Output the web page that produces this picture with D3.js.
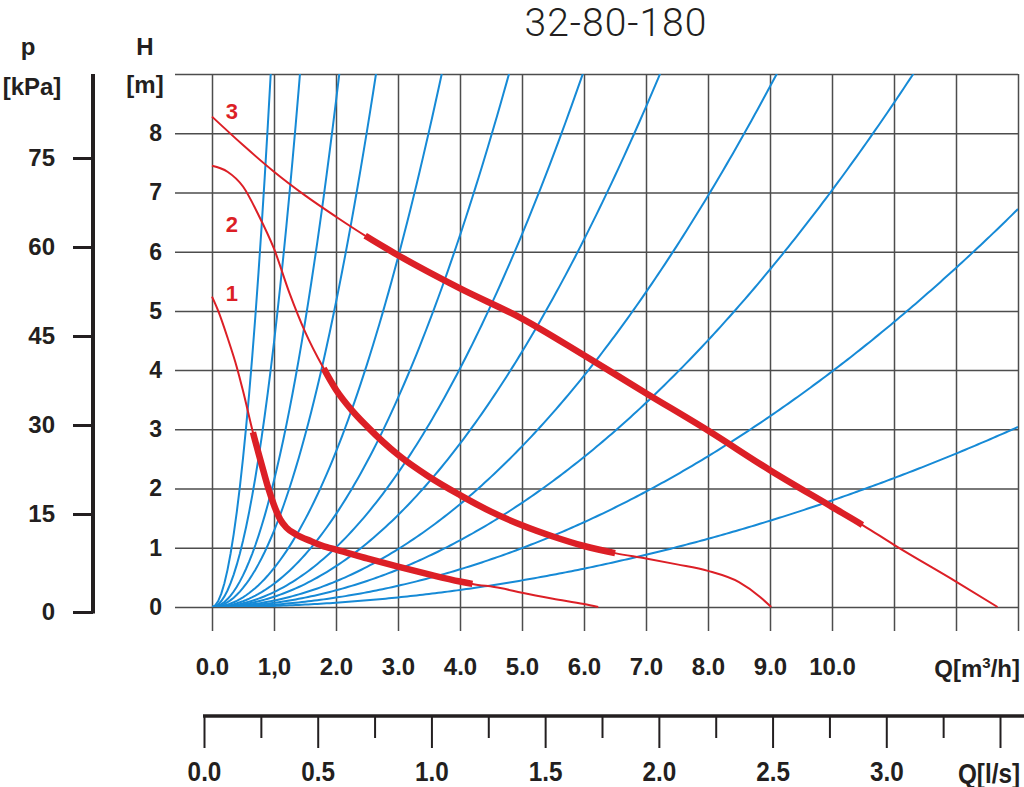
<!DOCTYPE html>
<html>
<head>
<meta charset="utf-8">
<script src="https://cdn.jsdelivr.net/npm/d3@7"></script>
<style>
  body { margin: 0; background: #fff; }
  text { font-family: "Liberation Sans", Arial, Helvetica, sans-serif; }
</style>
</head>
<body>
<div id="chart"></div>
<script>
// ---- data ----
const title = "32-80-180";

// flow axis Q [m3/h] (grid goes to 13, labels to 10)
const qGrid = d3.range(0, 14);
const qLabels = ["0.0", "1,0", "2.0", "3.0", "4.0", "5.0", "6.0", "7.0", "8.0", "9.0", "10.0"];

// head axis H [m]
const hGrid = d3.range(0, 10);
const hLabels = ["0", "1", "2", "3", "4", "5", "6", "7", "8"];

// pressure axis p [kPa]
const pTicks = [0, 15, 30, 45, 60, 75];

// flow axis Q [l/s]
const lsMajor = [0, 0.5, 1.0, 1.5, 2.0, 2.5, 3.0, 3.5];
const lsMinor = [0.25, 0.75, 1.25, 1.75, 2.25, 2.75, 3.25];
const lsLabels = ["0.0", "0.5", "1.0", "1.5", "2.0", "2.5", "3.0"];

// pump curves (speed 1, 2, 3)
const curve1Q = [0, 0.1, 0.25, 0.4, 0.5, 0.66, 0.8, 0.91, 1.0, 1.1, 1.2, 1.35, 1.6, 1.85, 2.0, 2.5, 3.0, 3.5, 4.0, 4.2, 4.65, 5.0, 5.5, 6.0, 6.23];
const curve1H = [5.24, 5.0, 4.55, 4.05, 3.65, 2.95, 2.41, 2.0, 1.72, 1.48, 1.34, 1.23, 1.11, 1.01, 0.97, 0.82, 0.68, 0.55, 0.43, 0.39, 0.32, 0.24, 0.14, 0.05, 0];
const curve2Q = [0, 0.25, 0.5, 0.75, 1.0, 1.25, 1.5, 1.8, 2.0, 2.25, 2.5, 3.0, 3.5, 4.0, 4.5, 5.0, 5.5, 6.0, 6.5, 7.0, 7.5, 8.0, 8.5, 8.84, 9.02];
const curve2H = [7.45, 7.35, 7.1, 6.62, 6.05, 5.3, 4.65, 4.03, 3.67, 3.33, 3.05, 2.57, 2.2, 1.89, 1.61, 1.38, 1.19, 1.03, 0.91, 0.82, 0.72, 0.61, 0.42, 0.17, 0];
const curve3Q = [0, 0.5, 1, 1.5, 2, 2.5, 3, 4, 5, 6, 7, 8, 9, 10, 10.5, 11, 12, 12.67];
const curve3H = [8.28, 7.8, 7.35, 6.95, 6.59, 6.25, 5.94, 5.38, 4.87, 4.25, 3.61, 2.98, 2.31, 1.69, 1.38, 1.05, 0.43, 0];
const curveNames = ["1", "2", "3"];
// operating range (thick part) of each pump curve, Q [m3/h]
const thickFrom = [0.66, 1.8, 2.47];
const thickTo = [4.2, 6.5, 10.49];

// system curves H = k*Q^2, given by the point where each leaves the grid
const systemEndQ = [0.947, 1.419, 2.053, 2.645, 3.705, 4.79, 5.98, 7.226, 9.108, 11.31, 13, 13];
const systemEndH = [9, 9, 9, 9, 9, 9, 9, 9, 9, 9, 6.72, 3.04];

// ---- drawing ----
const width = 1024, height = 787;
const ink = "#231f20", red = "#dc1f26", blue = "#168ad6", gridColor = "#4d4d4d";

const x = d3.scaleLinear().domain([0, 13]).range([212, 1018]);
const y = d3.scaleLinear().domain([0, 9]).range([607, 74]);
const p = d3.scaleLinear().domain([0, 15, 75]).range([612, 514, 158]);
const ls = d3.scaleLinear().domain([0, 3.5]).range([204, 1000]);

const gridLeft = 175, gridBottom = 631;

const svg = d3.select("#chart")
  .append("svg")
  .attr("width", width)
  .attr("height", height)
  .style("background", "#fff");

function styleAxis(g, size) {
  g.select(".domain").remove();
  g.attr("font-family", null).attr("font-size", null);
  g.selectAll("text")
    .attr("fill", ink)
    .style("font-size", size + "px")
    .style("font-weight", "bold");
}

// title
svg.append("text")
  .attr("x", 616)
  .attr("y", 36)
  .attr("text-anchor", "middle")
  .style("font-family", "Roboto, 'Open Sans', sans-serif")
  .style("font-weight", 300)
  .style("font-size", "39px")
  .style("letter-spacing", "1px")
  .attr("fill", ink)
  .text(title);

// horizontal grid + H labels
svg.append("g")
  .attr("transform", `translate(${gridLeft},0)`)
  .call(d3.axisLeft(y)
    .tickValues(hGrid)
    .tickSize(-(x(13) - gridLeft))
    .tickPadding(13)
    .tickFormat(d => hLabels[d] ?? ""))
  .call(g => styleAxis(g, 23))
  .call(g => g.selectAll("line").attr("stroke", gridColor).attr("stroke-width", 1.5));

// vertical grid + Q [m3/h] labels
svg.append("g")
  .attr("transform", `translate(0,${gridBottom})`)
  .call(d3.axisBottom(x)
    .tickValues(qGrid)
    .tickSize(-(gridBottom - y(9)))
    .tickPadding(27)
    .tickFormat(d => qLabels[d] ?? ""))
  .call(g => styleAxis(g, 24))
  .call(g => g.selectAll("line").attr("stroke", gridColor).attr("stroke-width", 1.5));

const qUnit = svg.append("text")
  .attr("x", 1020)
  .attr("y", 677)
  .attr("text-anchor", "end")
  .attr("fill", ink)
  .style("font-size", "24px")
  .style("font-weight", "bold");
qUnit.append("tspan").text("Q[m");
qUnit.append("tspan").attr("dy", -9).style("font-size", "15px").text("3");
qUnit.append("tspan").attr("dy", 9).text("/h]");

// H / p axis titles
[["H", 145, 55], ["[m]", 145, 93], ["p", 28, 55], ["[kPa]", 32, 95]].forEach(([t, tx, ty]) => {
  svg.append("text")
    .attr("x", tx).attr("y", ty)
    .attr("text-anchor", "middle")
    .attr("fill", ink)
    .style("font-size", "24px")
    .style("font-weight", "bold")
    .text(t);
});

// p axis
svg.append("g")
  .attr("transform", "translate(93,0)")
  .call(d3.axisLeft(p).tickValues(pTicks).tickSize(20).tickPadding(18))
  .call(g => styleAxis(g, 24))
  .call(g => g.selectAll("line").attr("stroke", ink).attr("stroke-width", 3));
svg.append("line")
  .attr("x1", 93).attr("x2", 93)
  .attr("y1", y(9)).attr("y2", p(0) + 1.5)
  .attr("stroke", ink)
  .attr("stroke-width", 4);

// Q [l/s] axis
const lsY = 716;
svg.append("g")
  .attr("transform", `translate(0,${lsY})`)
  .call(d3.axisBottom(ls).tickValues(lsMinor).tickSize(22).tickFormat(""))
  .call(g => styleAxis(g, 26))
  .call(g => g.selectAll("line").attr("stroke", ink).attr("stroke-width", 2));
svg.append("g")
  .attr("transform", `translate(0,${lsY})`)
  .call(d3.axisBottom(ls).tickValues(lsMajor).tickSize(32).tickPadding(14)
    .tickFormat((d, i) => lsLabels[i] ?? ""))
  .call(g => styleAxis(g, 27))
  .call(g => g.selectAll("line").attr("stroke", ink).attr("stroke-width", 2))
  .call(g => g.selectAll("text").attr("transform", "scale(0.9,1)"));
svg.append("line")
  .attr("x1", ls(0) - 1).attr("x2", width)
  .attr("y1", lsY).attr("y2", lsY)
  .attr("stroke", ink)
  .attr("stroke-width", 3.5);
svg.append("text")
  .attr("transform", `translate(1020,${lsY + 67}) scale(0.9,1)`)
  .attr("text-anchor", "end")
  .attr("fill", ink)
  .style("font-size", "27px")
  .style("font-weight", "bold")
  .text("Q[l/s]");

// plot clip
svg.append("clipPath").attr("id", "plot")
  .append("rect")
  .attr("x", x(0)).attr("y", y(9))
  .attr("width", x(13) - x(0)).attr("height", y(0) - y(9));

// system curves
const line = d3.line().x(d => x(d[0])).y(d => y(d[1]));
const qSamples = d3.range(0, 13.001, 0.05);
svg.append("g")
  .attr("clip-path", "url(#plot)")
  .selectAll("path")
  .data(systemEndQ.map((q, i) => systemEndH[i] / (q * q)))
  .join("path")
  .attr("d", k => line(qSamples.map(q => [q, k * q * q])))
  .attr("fill", "none")
  .attr("stroke", blue)
  .attr("stroke-width", 2);

// pump curves
const pumpCurves = [
  d3.zip(curve1Q, curve1H),
  d3.zip(curve2Q, curve2H),
  d3.zip(curve3Q, curve3H)
];
const smooth = d3.line().x(d => x(d[0])).y(d => y(d[1])).curve(d3.curveMonotoneX);

function lengthAtX(node, targetX) {
  let lo = 0, hi = node.getTotalLength();
  for (let i = 0; i < 40; i++) {
    const mid = (lo + hi) / 2;
    if (node.getPointAtLength(mid).x < targetX) lo = mid; else hi = mid;
  }
  return lo;
}

const pumps = svg.append("g");
pumpCurves.forEach((pts, i) => {
  pumps.append("path")
    .attr("d", smooth(pts))
    .attr("fill", "none")
    .attr("stroke", red)
    .attr("stroke-width", 2);
  const thick = pumps.append("path")
    .attr("d", smooth(pts))
    .attr("fill", "none")
    .attr("stroke", red)
    .attr("stroke-width", 6.5);
  const node = thick.node();
  const total = node.getTotalLength();
  const l1 = lengthAtX(node, x(thickFrom[i]));
  const l2 = lengthAtX(node, x(thickTo[i]));
  thick.attr("stroke-dasharray", `0,${l1},${l2 - l1},${total}`);
});

// curve numbers
const labelSpots = [[0.32, 5.3], [0.32, 6.47], [0.32, 8.37]];
svg.append("g")
  .selectAll("text")
  .data(curveNames)
  .join("text")
  .attr("x", (d, i) => x(labelSpots[i][0]))
  .attr("y", (d, i) => y(labelSpots[i][1]))
  .attr("dy", "0.36em")
  .attr("text-anchor", "middle")
  .attr("fill", red)
  .style("font-size", "22px")
  .style("font-weight", "bold")
  .text(d => d);
</script>
</body>
</html>
